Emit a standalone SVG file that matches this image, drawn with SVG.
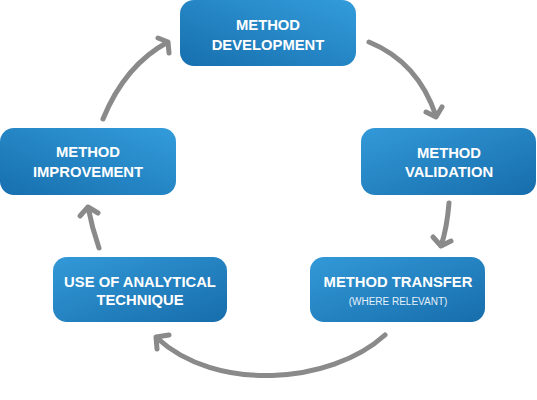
<svg xmlns="http://www.w3.org/2000/svg" width="537" height="400" viewBox="0 0 537 400">
  <defs>
    <linearGradient id="gUp" x1="0" y1="1" x2="1" y2="0">
      <stop offset="0" stop-color="#176fae"/>
      <stop offset="1" stop-color="#339cdb"/>
    </linearGradient>
    <linearGradient id="gDown" x1="0" y1="0" x2="1" y2="1">
      <stop offset="0" stop-color="#3399d8"/>
      <stop offset="1" stop-color="#176dab"/>
    </linearGradient>
    <style>
      .box { stroke: none; }
      .t { font-family: "Liberation Sans", Arial, sans-serif; font-weight: bold; font-size: 14.8px; fill: #ffffff; text-anchor: middle; }
      .s { font-family: "Liberation Sans", Arial, sans-serif; font-size: 10px; fill: #e6f1fa; text-anchor: middle; }
      .arr { fill: none; stroke: #8a8a8a; stroke-width: 5; stroke-linecap: round; stroke-linejoin: round; }
    </style>
  </defs>
  <rect width="537" height="400" fill="#ffffff"/>

  <g id="connectors">
    <path class="arr" d="M369,42 Q418,62 436,116 M426,112 L436,117 L442,107"/>
    <path class="arr" d="M449,203 Q447,228 441,246 M433,237 L441,246 L451,241"/>
    <path class="arr" d="M385,335 C330,385 215,392 157,338 M169,335 L156,337 L157,349"/>
    <path class="arr" d="M99,248 Q92,228 88,207 M80,216 L88,207 L98,213"/>
    <path class="arr" d="M103,119 Q125,65 168,42 M158,38 L168,42 L169,53"/>
  </g>

  <g id="method-development">
    <rect class="box" x="180" y="0" width="176" height="66" rx="14" fill="url(#gUp)"/>
    <text class="t" x="268" y="30">METHOD</text>
    <text class="t" x="268" y="50">DEVELOPMENT</text>
  </g>

  <g id="method-validation">
    <rect class="box" x="361" y="128" width="175" height="67" rx="14" fill="url(#gDown)"/>
    <text class="t" x="449" y="158">METHOD</text>
    <text class="t" x="449" y="177">VALIDATION</text>
  </g>

  <g id="method-transfer">
    <rect class="box" x="310" y="257" width="175" height="65" rx="14" fill="url(#gDown)"/>
    <text class="t" x="398" y="287">METHOD TRANSFER</text>
    <text class="s" x="398" y="305">(WHERE RELEVANT)</text>
  </g>

  <g id="use-of-analytical-technique">
    <rect class="box" x="53" y="257" width="174" height="65" rx="14" fill="url(#gDown)"/>
    <text class="t" x="140" y="287">USE OF ANALYTICAL</text>
    <text class="t" x="140" y="305">TECHNIQUE</text>
  </g>

  <g id="method-improvement">
    <rect class="box" x="0" y="128" width="176" height="67" rx="14" fill="url(#gUp)"/>
    <text class="t" x="88" y="157">METHOD</text>
    <text class="t" x="88" y="177">IMPROVEMENT</text>
  </g>
</svg>
